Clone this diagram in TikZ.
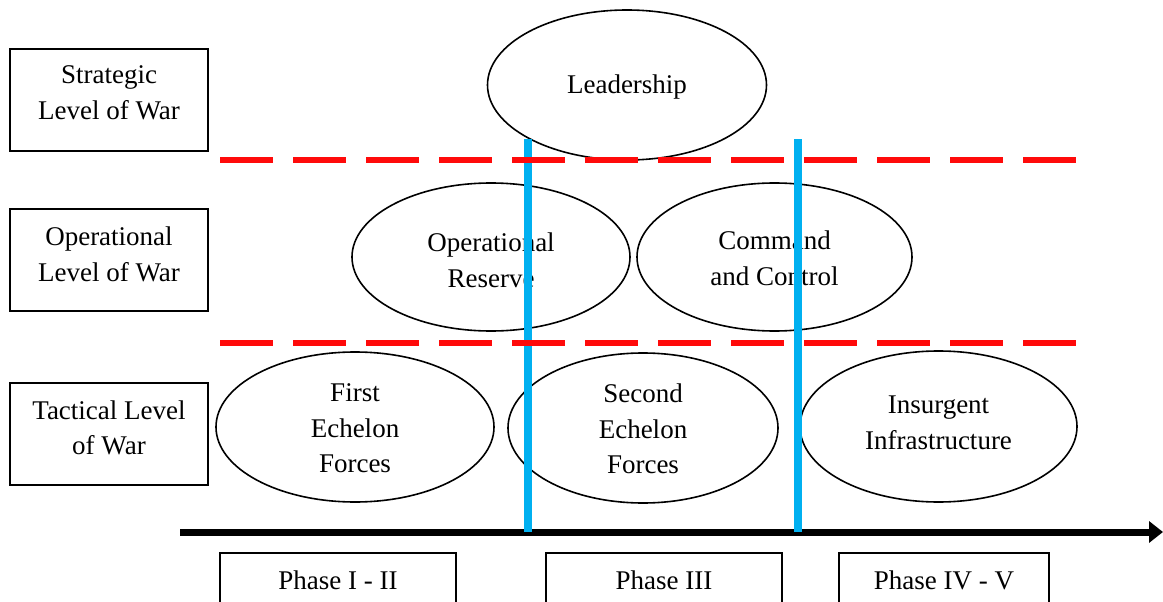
\documentclass[tikz,border=0pt]{standalone}
\usepackage{fontspec}
\setmainfont{Liberation Serif}
\usetikzlibrary{shapes.geometric,arrows.meta}
\definecolor{redline}{HTML}{FF0A0A}
\definecolor{blueline}{HTML}{00B0F0}
\begin{document}
\begin{tikzpicture}[x=1pt,y=-1pt,
  every node/.style={font=\fontsize{27}{35.5}\selectfont, align=center},
  levelbox/.style={draw, line width=2pt, rectangle, minimum width=198pt, minimum height=102pt, inner sep=0pt},
  phasebox/.style={draw, line width=1.5pt, rectangle, minimum height=60pt, inner sep=0pt},
  oval/.style={draw, line width=1.6pt, ellipse, inner sep=0pt},
  redsep/.style={draw=redline, line width=6pt, dash pattern=on 53pt off 20pt},
  bluesep/.style={draw=blueline, line width=8pt},
  timeline/.style={draw=black, line width=7pt, -{Triangle[length=14pt,width=21pt]}}
]
\useasboundingbox (0,0) rectangle (1163,602);
\clip (0,0) rectangle (1163,602);
\fill[white] (0,0) rectangle (1163,602);

% level boxes
\node[levelbox] (strat) at (109,100) {};
\node[levelbox] (oper) at (109,259.5) {};
\node[levelbox] (tact) at (109,434) {};
\node (stratt) at (109,93) {Strategic\\Level of War};
\node (opert) at (109,254.5) {Operational\\Level of War};
\node (tactt) at (109,428) {Tactical Level\\of War};

% ellipses
\node[oval, minimum width=279pt, minimum height=150pt] (lead) at (627,85) {};
\node[oval, minimum width=278pt, minimum height=148pt] (opres) at (491,257) {};
\node[oval, minimum width=275pt, minimum height=148pt] (cc) at (774.5,257) {};
\node[oval, minimum width=278pt, minimum height=150pt] (first) at (355,427) {};
\node[oval, minimum width=270pt, minimum height=150pt] (second) at (643,428) {};
\node[oval, minimum width=277pt, minimum height=151pt] (insur) at (938.5,426.5) {};
\node (leadt) at (627,87) {Leadership};
\node (opprest) at (491,260.5) {Operational\\Reserve};
\node (cct) at (774.5,258.5) {Command\\and Control};
\node (firstt) at (355,428.5) {First\\Echelon\\Forces};
\node (secondt) at (643,429) {Second\\Echelon\\Forces};
\node (insurt) at (938.5,423) {Insurgent\\Infrastructure};

% phase boxes
\node[phasebox, minimum width=236pt] (p1) at (338,583) {};
\node[phasebox, minimum width=236pt] (p2) at (664,583) {};
\node[phasebox, minimum width=210pt] (p3) at (944,583) {};
\node (p1t) at (338,580) {Phase I - II};
\node (p2t) at (664,580) {Phase III};
\node (p3t) at (944,580) {Phase IV - V};

% coordinates
\coordinate (b1top) at (528,139);
\coordinate (b1bot) at (528,532);
\coordinate (b2top) at (798,139);
\coordinate (b2bot) at (798,532);
\coordinate (r1a) at (220,160);
\coordinate (r1b) at (1080,160);
\coordinate (r2a) at (220,343);
\coordinate (r2b) at (1080,343);
\coordinate (tl0) at (180,532);
\coordinate (tl1) at (1163,532);

% timeline
\draw[timeline] (tl0) -- (tl1);
% blue phase separators
\draw[bluesep] (b1top) -- (b1bot);
\draw[bluesep] (b2top) -- (b2bot);
% red level separators
\draw[redsep] (r1a) -- (r1b);
\draw[redsep] (r2a) -- (r2b);
\end{tikzpicture}
\end{document}
